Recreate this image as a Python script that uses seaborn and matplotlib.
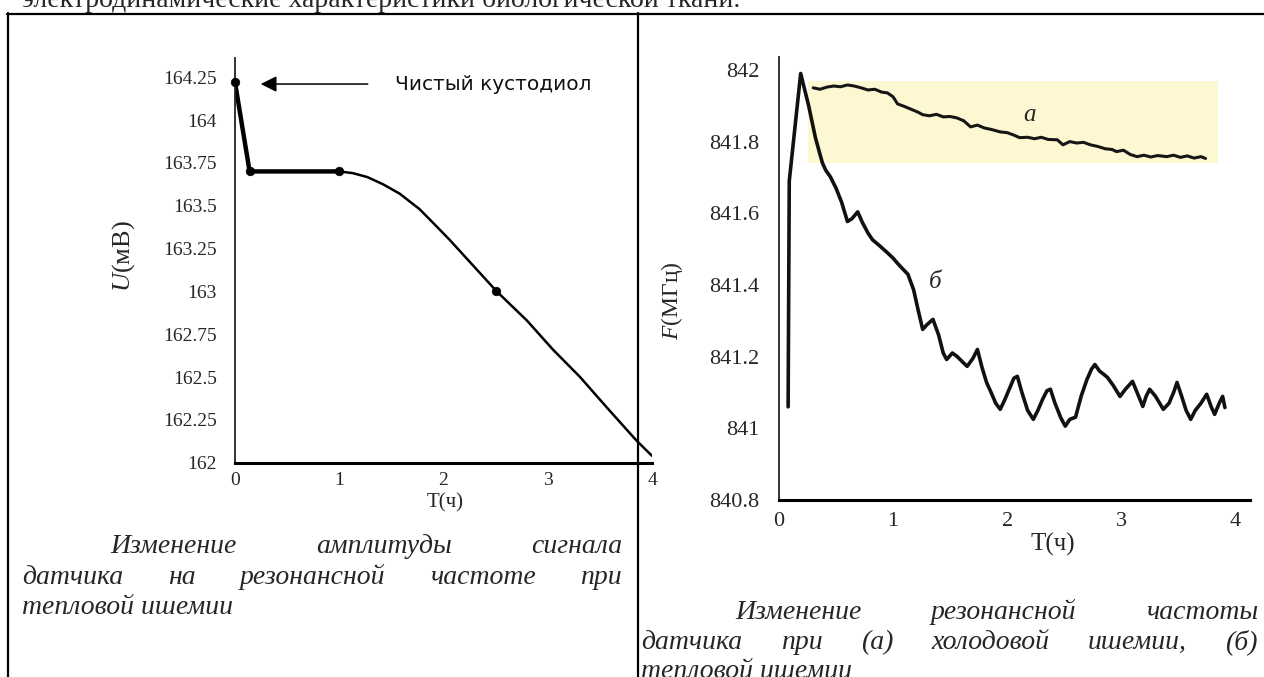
import matplotlib
matplotlib.use('Agg')
import matplotlib.pyplot as plt
import seaborn as sns
import pandas as pd
from matplotlib.lines import Line2D

# --- данные: амплитуда сигнала (тепловая ишемия)
amp_t = [0.0, 0.14, 1.0, 1.13, 1.27, 1.42, 1.58, 1.77, 1.9, 2.06, 2.21, 2.51,
         2.8, 3.05, 3.31, 3.57, 3.85, 4.0]
amp_u = [164.22, 163.70, 163.70, 163.69, 163.667, 163.625, 163.57, 163.48, 163.40,
         163.30, 163.20, 163.0, 162.83, 162.66, 162.50, 162.32, 162.13, 162.04]
amp_mark_t = [0.0, 0.14, 1.0, 2.5]
amp_mark_u = [164.22, 163.70, 163.70, 163.0]
amp_yticks = [162, 162.25, 162.5, 162.75, 163, 163.25, 163.5, 163.75, 164, 164.25]
amp_ylabels = ['162', '162.25', '162.5', '162.75', '163', '163.25', '163.5',
               '163.75', '164', '164.25']

# --- данные: резонансная частота, (а) холодовая ишемия
cold_t = [0.30, 0.36, 0.42, 0.48, 0.54, 0.60, 0.66, 0.72, 0.78, 0.84, 0.90, 0.95,
          1.00, 1.04, 1.10, 1.16, 1.22, 1.26, 1.32, 1.38, 1.44, 1.50, 1.56, 1.62,
          1.68, 1.74, 1.80, 1.86, 1.94, 2.00, 2.06, 2.11, 2.18, 2.24, 2.30, 2.36,
          2.44, 2.49, 2.55, 2.61, 2.67, 2.73, 2.80, 2.86, 2.92, 2.96, 3.02, 3.08,
          3.14, 3.20, 3.26, 3.32, 3.40, 3.46, 3.52, 3.58, 3.64, 3.70, 3.74]
cold_f = [841.950, 841.946, 841.952, 841.955, 841.953, 841.958, 841.955, 841.950,
          841.944, 841.946, 841.938, 841.936, 841.925, 841.905, 841.898, 841.890,
          841.882, 841.875, 841.872, 841.876, 841.869, 841.870, 841.866, 841.858,
          841.841, 841.846, 841.838, 841.834, 841.827, 841.825, 841.818, 841.811,
          841.812, 841.808, 841.812, 841.806, 841.805, 841.791, 841.800, 841.796,
          841.798, 841.791, 841.786, 841.780, 841.778, 841.772, 841.776, 841.764,
          841.758, 841.762, 841.757, 841.761, 841.758, 841.762, 841.756, 841.760,
          841.754, 841.758, 841.753]

# --- (б) тепловая ишемия
warm_t = [0.08, 0.09, 0.19, 0.26, 0.32, 0.38, 0.41, 0.45, 0.50, 0.55, 0.60, 0.64,
          0.69, 0.73, 0.78, 0.82, 0.88, 0.95, 1.00, 1.04, 1.09, 1.13, 1.18, 1.22,
          1.26, 1.30, 1.35, 1.40, 1.44, 1.47, 1.52, 1.56, 1.61, 1.65, 1.70, 1.74,
          1.78, 1.82, 1.86, 1.90, 1.94, 1.98, 2.02, 2.06, 2.09, 2.13, 2.18, 2.23,
          2.27, 2.31, 2.35, 2.38, 2.42, 2.47, 2.51, 2.55, 2.60, 2.65, 2.70, 2.74,
          2.77, 2.81, 2.85, 2.88, 2.93, 2.99, 3.04, 3.10, 3.14, 3.19, 3.22, 3.25,
          3.30, 3.37, 3.42, 3.46, 3.49, 3.53, 3.57, 3.61, 3.65, 3.70, 3.75, 3.79,
          3.82, 3.86, 3.89, 3.91]
warm_f = [841.06, 841.69, 841.99, 841.90, 841.81, 841.741, 841.72, 841.702, 841.67,
          841.63, 841.577, 841.585, 841.604, 841.575, 841.545, 841.526, 841.51,
          841.490, 841.475, 841.46, 841.443, 841.43, 841.387, 841.33, 841.276,
          841.29, 841.304, 841.26, 841.21, 841.192, 841.21, 841.201, 841.185,
          841.173, 841.195, 841.220, 841.17, 841.128, 841.10, 841.07, 841.053,
          841.08, 841.11, 841.14, 841.145, 841.10, 841.05, 841.025, 841.05, 841.08,
          841.105, 841.109, 841.07, 841.03, 841.006, 841.025, 841.031, 841.09,
          841.136, 841.165, 841.178, 841.16, 841.15, 841.142, 841.12, 841.089,
          841.11, 841.131, 841.10, 841.061, 841.09, 841.109, 841.09, 841.053,
          841.07, 841.10, 841.128, 841.09, 841.05, 841.025, 841.05, 841.07, 841.095,
          841.06, 841.039, 841.07, 841.089, 841.058]
band_t = [0.25, 3.85]
band_lo, band_hi = 841.74, 841.97
freq_yticks = [840.8, 841.0, 841.2, 841.4, 841.6, 841.8, 842.0]
freq_ylabels = ['840.8', '841', '841.2', '841.4', '841.6', '841.8', '842']
t_ticks = [0, 1, 2, 3, 4]

top_line = 'электродинамические характеристики биологической ткани.'
cap_left = [['Изменение', 'амплитуды', 'сигнала'],
            ['датчика', 'на', 'резонансной', 'частоте', 'при'],
            ['тепловой', 'ишемии']]
cap_right = [['Изменение', 'резонансной', 'частоты'],
             ['датчика', 'при', '(а)', 'холодовой', 'ишемии,', '(б)'],
             ['тепловой', 'ишемии']]

sns.set_style('white')
plt.rcParams['font.family'] = ['Liberation Serif', 'DejaVu Serif']
plt.rcParams['mathtext.fontset'] = 'custom'
plt.rcParams['mathtext.it'] = 'Liberation Serif:italic'
plt.rcParams['mathtext.rm'] = 'Liberation Serif'

W, H = 1264, 677
fig = plt.figure(figsize=(W / 100, H / 100), dpi=100)
fig.patch.set_facecolor('white')


def px_axes(x0, y0, x1, y1):
    return fig.add_axes([x0 / W, 1 - y1 / H, (x1 - x0) / W, (y1 - y0) / H])


def style_axes(ax, fs, ypad, xpad):
    for s in ['top', 'right']:
        ax.spines[s].set_visible(False)
    ax.spines['left'].set_linewidth(1.3)
    ax.spines['bottom'].set_linewidth(2.2)
    ax.spines['left'].set_color('#222222')
    ax.spines['bottom'].set_color('black')
    ax.set_facecolor('none')
    ax.tick_params(axis='both', which='major', direction='out', length=6, width=1.5,
                   labelsize=fs, color='black')
    ax.tick_params(axis='y', pad=ypad)
    ax.tick_params(axis='x', pad=xpad)
    ax.tick_params(axis='x', which='minor', direction='out', length=4, width=1.3)
    ax.set_xticks([0.5, 1.5, 2.5, 3.5], minor=True)


# ---------- левый график ----------
axL = px_axes(235, 58, 652, 462.7)
dfL = pd.DataFrame({'T': amp_t, 'U': amp_u})
sns.lineplot(data=dfL.iloc[:3], x='T', y='U', ax=axL, color='black', lw=3.2,
             sort=False, estimator=None)
sns.lineplot(data=dfL.iloc[2:], x='T', y='U', ax=axL, color='black', lw=1.8,
             sort=False, estimator=None)
sns.scatterplot(x=amp_mark_t, y=amp_mark_u, ax=axL, color='black', s=38,
                edgecolor='black', zorder=5, clip_on=False)
axL.set_xlim(0, 4.0)
axL.set_ylim(162, 164.362)
style_axes(axL, 14, 7, 1)
axL.set_xticks(t_ticks)
axL.set_yticks(amp_yticks)
axL.set_yticklabels(amp_ylabels)
axL.set_xlabel('T(ч)', fontsize=15)
axL.xaxis.set_label_coords(0.504, -0.075)
axL.set_ylabel('$U$(мВ)', fontsize=19)
axL.yaxis.set_label_coords(-0.235, 0.51)
axL.annotate('', xy=(0.22, 164.21), xytext=(1.30, 164.21),
             arrowprops=dict(arrowstyle='-|>', color='black', lw=1.1,
                             mutation_scale=24))
axL.text(1.53, 164.21, 'Чистый кустодиол', fontsize=14.5, va='center',
         family='DejaVu Sans', color='#111111')

# ---------- правый график ----------
axR = px_axes(779, 57, 1250, 500)
axR.fill_between(band_t, band_lo, band_hi, color='#fdf8d2', lw=0, zorder=0)
sns.lineplot(x=cold_t, y=cold_f, ax=axR, color='#161616', lw=2.2,
             sort=False, estimator=None)
sns.lineplot(x=warm_t, y=warm_f, ax=axR, color='#111111', lw=2.6,
             sort=False, estimator=None)
axR.set_xlim(0, 4.13)
axR.set_ylim(840.8, 842.036)
style_axes(axR, 16, 8, 3)
axR.set_xticks(t_ticks)
axR.set_yticks(freq_yticks)
axR.set_yticklabels(freq_ylabels)
axR.set_xlabel('T(ч)', fontsize=18)
axR.xaxis.set_label_coords(0.582, -0.075)
axR.set_ylabel('$F$(МГц)', fontsize=17)
axR.yaxis.set_label_coords(-0.2, 0.45)
axR.text(2.20, 841.874, 'а', fontsize=18, style='italic', ha='center', va='center')
axR.text(1.37, 841.409, 'б', fontsize=18, style='italic', ha='center', va='center')

# ---------- рамка таблицы ----------
lw_border = 1.6
for (x0, y0, x1, y1) in [(7, 13.5, W, 13.5), (7.5, 13, 7.5, H), (637.5, 13, 637.5, H)]:
    fig.add_artist(Line2D([x0 / W, x1 / W], [1 - y0 / H, 1 - y1 / H],
                          color='black', lw=lw_border, zorder=20))

# ---------- текст страницы ----------
fig.text(22 / W, 1 - 7 / H, top_line, fontsize=20, va='baseline', ha='left')

renderer = fig.canvas.get_renderer()


def justified(lines, x_left, x_right, baselines, indent, size):
    for i, (words, yb) in enumerate(zip(lines, baselines)):
        x0 = x_left + (indent if i == 0 else 0)
        if i == len(lines) - 1:
            fig.text(x0 / W, 1 - yb / H, ' '.join(words), fontsize=size,
                     style='italic', va='baseline', ha='left')
            continue
        widths = []
        for w in words:
            t = fig.text(0, 0, w, fontsize=size, style='italic')
            widths.append(t.get_window_extent(renderer).width)
            t.remove()
        gap = (x_right - x0 - sum(widths)) / (len(words) - 1)
        x = x0
        for w, wd in zip(words, widths):
            fig.text(x / W, 1 - yb / H, w, fontsize=size, style='italic',
                     va='baseline', ha='left')
            x += wd + gap


justified(cap_left, 22, 622, [553, 584, 614], 88, 20)
justified(cap_right, 641, 1258, [619, 649, 678], 94, 20)

fig.savefig('out.png', dpi=100)
